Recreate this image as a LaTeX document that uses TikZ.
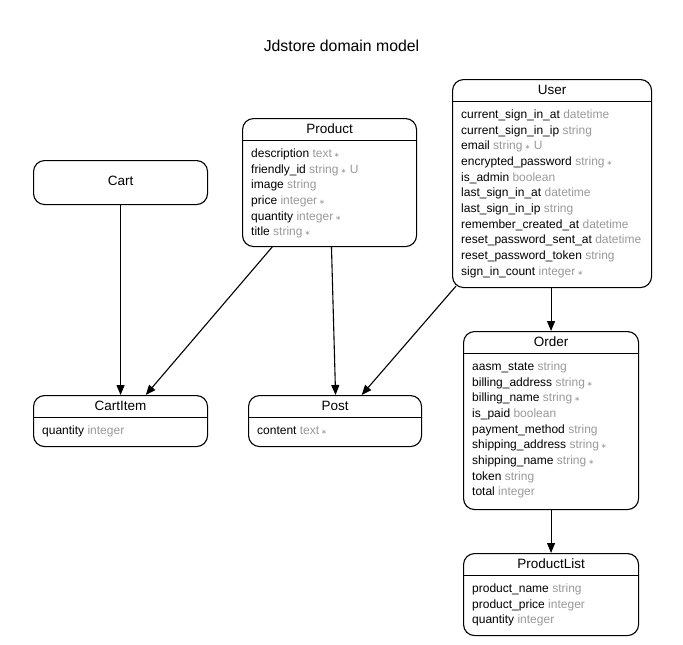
\documentclass[tikz,border=0pt]{standalone}
\usepackage{fontspec}
\setmainfont{Liberation Sans}
\newfontfamily\symfont{DejaVu Sans}
\usetikzlibrary{calc,arrows.meta}
\definecolor{typegray}{HTML}{999999}
\newcommand\ty[1]{\textcolor{typegray}{#1}}
\newcommand\st{\textcolor{typegray}{\,{\symfont\fontsize{7}{7}\selectfont ∗}}}
\newcommand\uq{\textcolor{typegray}{\ U}}
\newcommand\entdivider[1]{\draw[line width=1pt] ($(#1.north west)+(0,22)$) -- ($(#1.north east)+(0,22)$);}
\newcommand\enttitle[2]{\node[ttl] (#1-title) at ($(#1.north)+(0,15.5)$) {#2};}
\newcommand\entrows[2]{\foreach \r [count=\i] in {#2} {\node[attr] (#1-row\i) at ($(#1.north west)+(9,{39.3+15.7*(\i-1)})$) {\r};}}
\begin{document}
\begin{tikzpicture}[x=1pt,y=-1pt,
  entity/.style={draw, line width=1.1pt, rounded corners=11pt, anchor=north west, inner sep=0pt},
  ttl/.style={anchor=base, font=\fontsize{13.5}{15}\selectfont, inner sep=0pt},
  attr/.style={anchor=base west, font=\fontsize{12}{14}\selectfont, inner sep=0pt},
  rel/.style={line width=1.1pt, -{Triangle[length=10pt,width=8pt]}}]
\useasboundingbox (0,0) rectangle (683,645);
\node[font=\fontsize{15.8}{18}\selectfont] (heading) at (341.5,46) {Jdstore domain model};

% Cart
\node[entity, minimum width=174pt, minimum height=44pt] (cart) at (33,160) {};
\node[ttl, anchor=mid] (cart-title) at (cart.center) {Cart};

% Product
\node[entity, minimum width=174pt, minimum height=128pt] (product) at (242,118) {};
\enttitle{product}{Product}
\entdivider{product}
\entrows{product}{{description \ty{text}\st},{friendly\_id \ty{string}\st\uq},{image \ty{string}},{price \ty{integer}\st},{quantity \ty{integer}\st},{title \ty{string}\st}}

% User
\node[entity, minimum width=199pt, minimum height=208pt] (user) at (452,79) {};
\enttitle{user}{User}
\entdivider{user}
\entrows{user}{{current\_sign\_in\_at \ty{datetime}},{current\_sign\_in\_ip \ty{string}},{email \ty{string}\st\uq},{encrypted\_password \ty{string}\st},{is\_admin \ty{boolean}},{last\_sign\_in\_at \ty{datetime}},{last\_sign\_in\_ip \ty{string}},{remember\_created\_at \ty{datetime}},{reset\_password\_sent\_at \ty{datetime}},{reset\_password\_token \ty{string}},{sign\_in\_count \ty{integer}\st}}

% Order
\node[entity, minimum width=175pt, minimum height=178pt] (order) at (463,331) {};
\enttitle{order}{Order}
\entdivider{order}
\entrows{order}{{aasm\_state \ty{string}},{billing\_address \ty{string}\st},{billing\_name \ty{string}\st},{is\_paid \ty{boolean}},{payment\_method \ty{string}},{shipping\_address \ty{string}\st},{shipping\_name \ty{string}\st},{token \ty{string}},{total \ty{integer}}}

% CartItem
\node[entity, minimum width=174pt, minimum height=51pt] (cartitem) at (33,395) {};
\enttitle{cartitem}{CartItem}
\entdivider{cartitem}
\entrows{cartitem}{{quantity \ty{integer}}}

% Post
\node[entity, minimum width=173pt, minimum height=51pt] (post) at (248,395) {};
\enttitle{post}{Post}
\entdivider{post}
\entrows{post}{{content \ty{text}\st}}

% ProductList
\node[entity, minimum width=175pt, minimum height=82pt] (productlist) at (463,553) {};
\enttitle{productlist}{ProductList}
\entdivider{productlist}
\entrows{productlist}{{product\_name \ty{string}},{product\_price \ty{integer}},{quantity \ty{integer}}}

% Relations
\draw[rel] (cart.south) -- (cartitem.north);
\draw[rel] ($(product.south west)!0.172!(product.south east)$) -- ($(cartitem.north west)!0.644!(cartitem.north east)$);
\draw[rel] ($(product.south west)!0.511!(product.south east)$) -- ($(post.north west)!0.503!(post.north east)$);
\draw[rel] ($(user.south west)+(4,-2)$) -- ($(post.north west)!0.653!(post.north east)$);
\draw[rel] (order.north |- user.south) -- (order.north);
\draw[rel] (order.south) -- (productlist.north);
\end{tikzpicture}
\end{document}
